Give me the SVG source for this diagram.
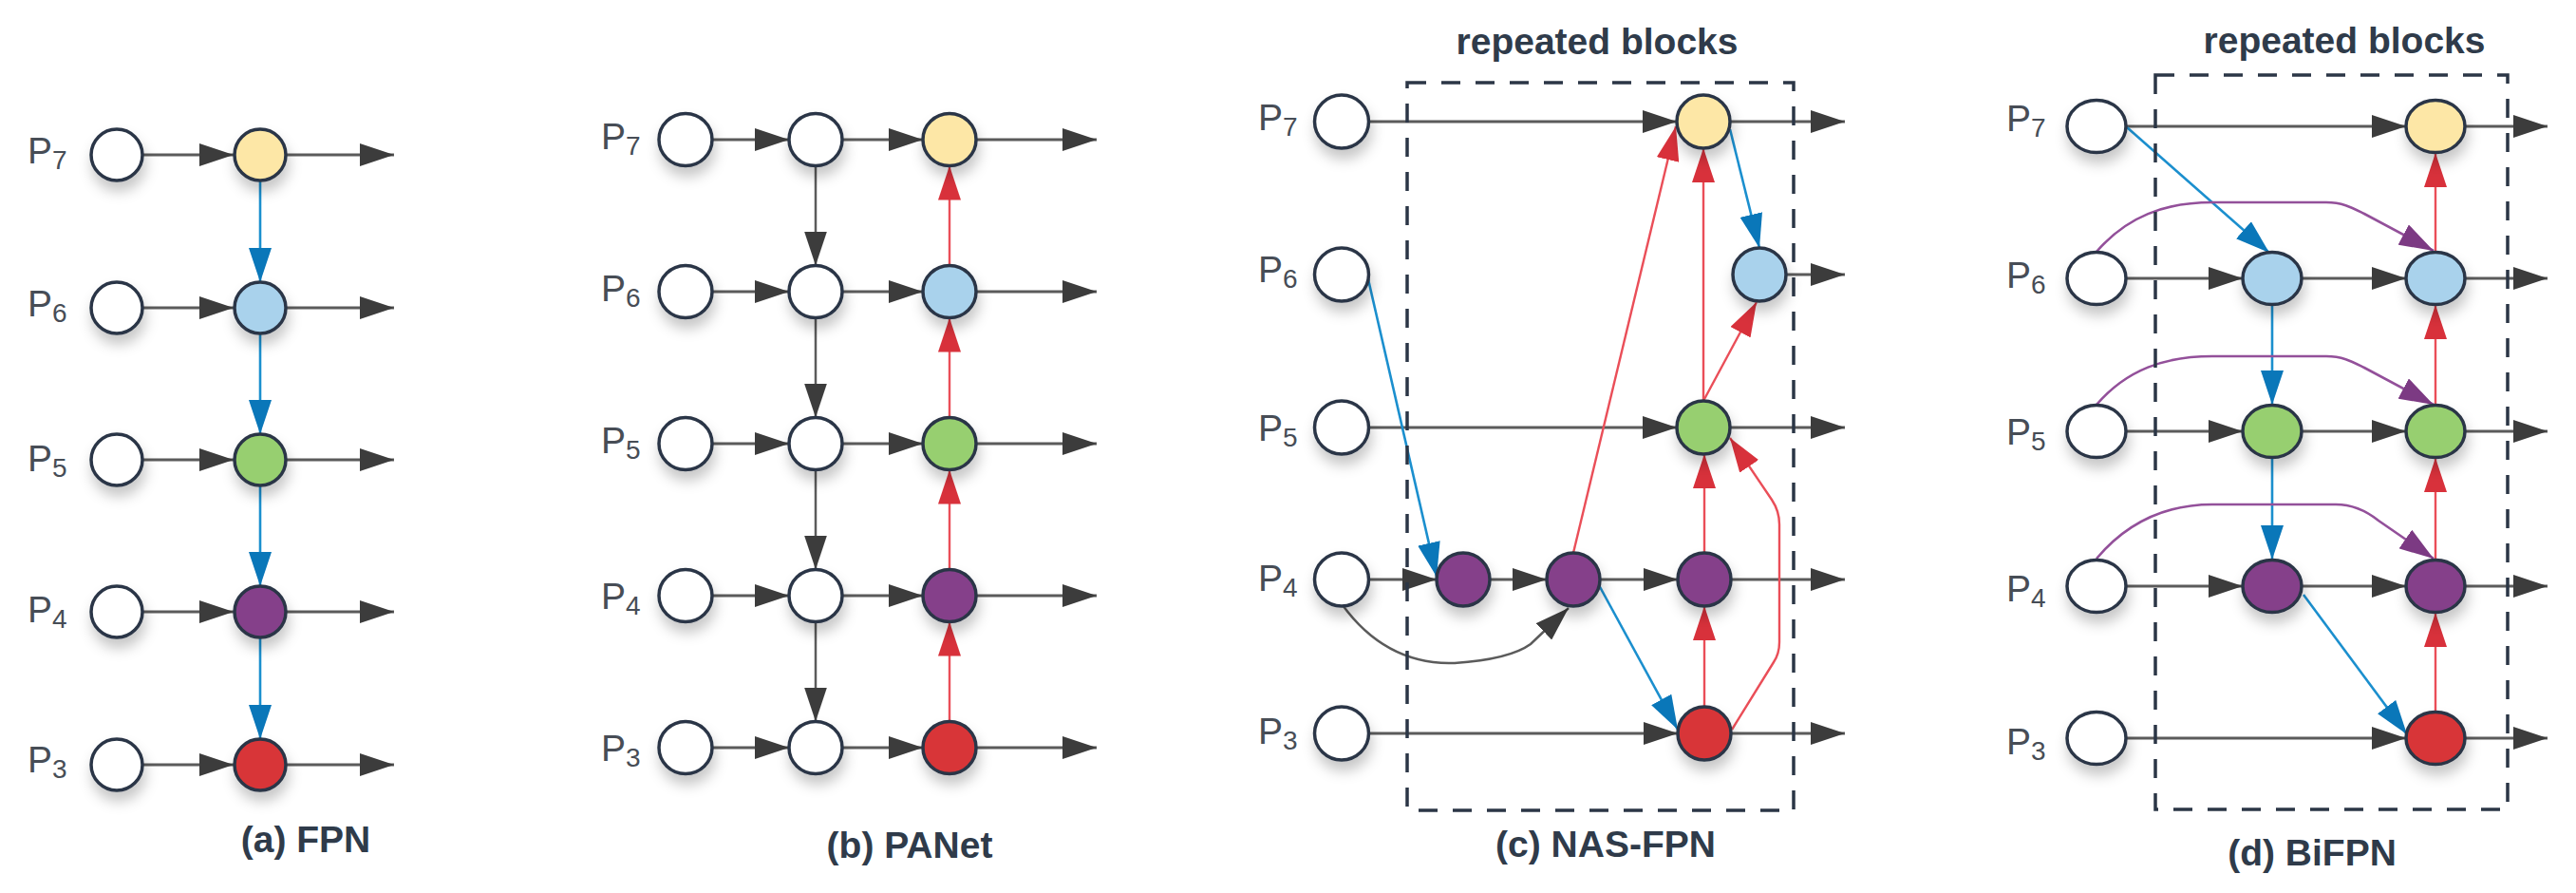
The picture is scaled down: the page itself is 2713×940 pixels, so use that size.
<svg xmlns="http://www.w3.org/2000/svg" width="2713" height="940" viewBox="0 0 2713 940">
<style>
.bg{fill:#ffffff}
.nd{stroke:#2b3646;stroke-width:3.5;filter:url(#sh)}
.w{fill:#ffffff}.y{fill:#fde7a6}.bl{fill:#a9d2ec}.g{fill:#97cf6f}.pu{fill:#85418a}.rd{fill:#d83537}
.k{fill:none;stroke:#5b5b5b;stroke-width:3;marker-end:url(#ak)}
.kb{fill:none;stroke:#5b5b5b;stroke-width:2.5;marker-end:url(#ak)}
.b{fill:none;stroke:#1b8fce;stroke-width:2.6;marker-end:url(#ab)}
.r{fill:none;stroke:#ea4e58;stroke-width:2.4;marker-end:url(#ar)}
.p{fill:none;stroke:#93509a;stroke-width:2.6;marker-end:url(#ap)}
.box{fill:none;stroke:#2b3646;stroke-width:3.5;stroke-dasharray:20 16}
.lab{font-family:"Liberation Sans",Arial,sans-serif;font-size:39px;fill:#474d56}
.sub{font-size:28px}
.cap{font-family:"Liberation Sans",Arial,sans-serif;font-weight:bold;font-size:39px;fill:#2f3b4a;text-anchor:middle}
</style>
<defs>
<filter id="sh" x="-60%" y="-60%" width="220%" height="240%">
<feDropShadow dx="2" dy="10" stdDeviation="7" flood-color="#000" flood-opacity="0.22"/>
</filter>
<marker id="ak" viewBox="0 0 36 24" markerUnits="userSpaceOnUse" markerWidth="36" markerHeight="24" refX="36" refY="12" orient="auto"><path d="M0,0 L36,12 L0,24 Z" fill="#3c3c3c"/></marker>
<marker id="ab" viewBox="0 0 36 24" markerUnits="userSpaceOnUse" markerWidth="36" markerHeight="24" refX="36" refY="12" orient="auto"><path d="M0,0 L36,12 L0,24 Z" fill="#0a77b9"/></marker>
<marker id="ar" viewBox="0 0 36 24" markerUnits="userSpaceOnUse" markerWidth="36" markerHeight="24" refX="36" refY="12" orient="auto"><path d="M0,0 L36,12 L0,24 Z" fill="#d8313b"/></marker>
<marker id="ap" viewBox="0 0 36 24" markerUnits="userSpaceOnUse" markerWidth="36" markerHeight="24" refX="36" refY="12" orient="auto"><path d="M0,0 L36,12 L0,24 Z" fill="#7c3a83"/></marker>
</defs>
<rect class="bg" x="0" y="0" width="2713" height="940"/>

<g id="connectors">
<!-- panel a -->
<path class="k" d="M150,163 H246"/><path class="k" d="M301,163 H415"/>
<path class="k" d="M150,324 H246"/><path class="k" d="M301,324 H415"/>
<path class="k" d="M150,484 H246"/><path class="k" d="M301,484 H415"/>
<path class="k" d="M150,644 H246"/><path class="k" d="M301,644 H415"/>
<path class="k" d="M150,805 H246"/><path class="k" d="M301,805 H415"/>
<path class="b" d="M274,190 V297"/><path class="b" d="M274,351 V457"/>
<path class="b" d="M274,511 V617"/><path class="b" d="M274,671 V778"/>
<!-- panel b -->
<path class="k" d="M750,147 H831"/><path class="k" d="M887,147 H972"/><path class="k" d="M1028,147 H1155"/>
<path class="k" d="M750,307 H831"/><path class="k" d="M887,307 H972"/><path class="k" d="M1028,307 H1155"/>
<path class="k" d="M750,467 H831"/><path class="k" d="M887,467 H972"/><path class="k" d="M1028,467 H1155"/>
<path class="k" d="M750,627 H831"/><path class="k" d="M887,627 H972"/><path class="k" d="M1028,627 H1155"/>
<path class="k" d="M750,787 H831"/><path class="k" d="M887,787 H972"/><path class="k" d="M1028,787 H1155"/>
<path class="kb" d="M859,174.5 V279.5"/><path class="kb" d="M859,334.5 V439.5"/>
<path class="kb" d="M859,494.5 V599.5"/><path class="kb" d="M859,654.5 V759.5"/>
<path class="r" d="M1000,759.5 V654.5"/><path class="r" d="M1000,599.5 V494.5"/>
<path class="r" d="M1000,439.5 V334.5"/><path class="r" d="M1000,279.5 V174.5"/>
<!-- panel c -->
<path class="k" d="M1441,128 H1766"/><path class="k" d="M1822,128 H1943"/>
<path class="b" d="M1822,136 L1853,261"/>
<path class="k" d="M1881,289 H1943"/>
<path class="k" d="M1441,450 H1766"/><path class="k" d="M1822,450 H1943"/>
<path class="r" d="M1794,422 V156"/>
<path class="r" d="M1794,422 L1850,318"/>
<path class="b" d="M1441,294 L1513,607"/>
<path class="k" d="M1441,610 H1513"/><path class="k" d="M1569,610 H1629"/>
<path class="k" d="M1685,610 H1767"/><path class="k" d="M1823,610 H1943"/>
<path class="kb" d="M1414,637 Q1460,700 1532,698 Q1590,694 1612,678 L1652,640"/>
<path class="b" d="M1684,616 L1767,768"/>
<path class="k" d="M1441,772 H1767"/><path class="k" d="M1823,772 H1943"/>
<path class="r" d="M1795,744 V638"/>
<path class="r" d="M1795,582 V478"/>
<path class="r" d="M1824,768 L1868,697 Q1874,688 1874,676 L1874,552 Q1874,538 1866,526 L1822,461"/>
<path class="r" d="M1657,582 L1765,133"/>
<!-- panel d -->
<path class="k" d="M2239,133 H2534"/><path class="k" d="M2596,133 H2683"/>
<path class="b" d="M2240,134 L2390,266"/>
<path class="k" d="M2239,293 H2362"/><path class="k" d="M2424,293 H2534"/><path class="k" d="M2596,293 H2683"/>
<path class="k" d="M2239,454 H2362"/><path class="k" d="M2424,454 H2534"/><path class="k" d="M2596,454 H2683"/>
<path class="k" d="M2239,617 H2362"/><path class="k" d="M2424,617 H2534"/><path class="k" d="M2596,617 H2683"/>
<path class="k" d="M2239,777 H2534"/><path class="k" d="M2596,777 H2683"/>
<path class="b" d="M2393,321 V426"/><path class="b" d="M2393,482 V589"/>
<path class="b" d="M2426,626 L2535,773"/>
<path class="r" d="M2565,749 V645"/><path class="r" d="M2565,589 V482"/>
<path class="r" d="M2565,426 V321"/><path class="r" d="M2565,265 V161"/>
<path class="p" d="M2208,265 C2240,228 2280,213 2330,213 L2450,213 C2468,213 2478,219 2490,225 L2563,264"/>
<path class="p" d="M2208,426 C2240,389 2280,375 2330,375 L2450,375 C2468,375 2478,381 2490,387 L2563,426"/>
<path class="p" d="M2208,588 C2240,550 2280,531 2330,531 L2460,531 C2480,531 2495,540 2505,548 L2563,588"/>
</g>

<g id="blocks">
<rect class="box" x="1482" y="87" width="407" height="766"/>
<rect class="box" x="2270" y="79" width="371" height="773"/>
<text class="cap" x="1682" y="57">repeated blocks</text>
<text class="cap" x="2469" y="56">repeated blocks</text>
</g>

<!-- panel a nodes -->
<g id="a-in7"><circle class="nd w" cx="123" cy="163" r="27"/></g>
<g id="a-in6"><circle class="nd w" cx="123" cy="324" r="27"/></g>
<g id="a-in5"><circle class="nd w" cx="123" cy="484" r="27"/></g>
<g id="a-in4"><circle class="nd w" cx="123" cy="644" r="27"/></g>
<g id="a-in3"><circle class="nd w" cx="123" cy="805" r="27"/></g>
<g id="a-p7"><circle class="nd y" cx="274" cy="163" r="27"/></g>
<g id="a-p6"><circle class="nd bl" cx="274" cy="324" r="27"/></g>
<g id="a-p5"><circle class="nd g" cx="274" cy="484" r="27"/></g>
<g id="a-p4"><circle class="nd pu" cx="274" cy="644" r="27"/></g>
<g id="a-p3"><circle class="nd rd" cx="274" cy="805" r="27"/></g>

<!-- panel b nodes -->
<g id="b-in7"><ellipse class="nd w" cx="722" cy="147" rx="28" ry="27.5"/></g>
<g id="b-in6"><ellipse class="nd w" cx="722" cy="307" rx="28" ry="27.5"/></g>
<g id="b-in5"><ellipse class="nd w" cx="722" cy="467" rx="28" ry="27.5"/></g>
<g id="b-in4"><ellipse class="nd w" cx="722" cy="627" rx="28" ry="27.5"/></g>
<g id="b-in3"><ellipse class="nd w" cx="722" cy="787" rx="28" ry="27.5"/></g>
<g id="b-td7"><ellipse class="nd w" cx="859" cy="147" rx="28" ry="27.5"/></g>
<g id="b-td6"><ellipse class="nd w" cx="859" cy="307" rx="28" ry="27.5"/></g>
<g id="b-td5"><ellipse class="nd w" cx="859" cy="467" rx="28" ry="27.5"/></g>
<g id="b-td4"><ellipse class="nd w" cx="859" cy="627" rx="28" ry="27.5"/></g>
<g id="b-td3"><ellipse class="nd w" cx="859" cy="787" rx="28" ry="27.5"/></g>
<g id="b-p7"><ellipse class="nd y" cx="1000" cy="147" rx="28" ry="27.5"/></g>
<g id="b-p6"><ellipse class="nd bl" cx="1000" cy="307" rx="28" ry="27.5"/></g>
<g id="b-p5"><ellipse class="nd g" cx="1000" cy="467" rx="28" ry="27.5"/></g>
<g id="b-p4"><ellipse class="nd pu" cx="1000" cy="627" rx="28" ry="27.5"/></g>
<g id="b-p3"><ellipse class="nd rd" cx="1000" cy="787" rx="28" ry="27.5"/></g>

<!-- panel c nodes -->
<g id="c-in7"><ellipse class="nd w" cx="1413" cy="128" rx="28.5" ry="28"/></g>
<g id="c-in6"><ellipse class="nd w" cx="1413" cy="289" rx="28.5" ry="28"/></g>
<g id="c-in5"><ellipse class="nd w" cx="1413" cy="450" rx="28.5" ry="28"/></g>
<g id="c-in4"><ellipse class="nd w" cx="1413" cy="610" rx="28.5" ry="28"/></g>
<g id="c-in3"><ellipse class="nd w" cx="1413" cy="772" rx="28.5" ry="28"/></g>
<g id="c-p7"><ellipse class="nd y" cx="1794" cy="128" rx="28" ry="28"/></g>
<g id="c-p6"><ellipse class="nd bl" cx="1853" cy="289" rx="28" ry="28"/></g>
<g id="c-p5"><ellipse class="nd g" cx="1794" cy="450" rx="28" ry="28"/></g>
<g id="c-p4a"><ellipse class="nd pu" cx="1541" cy="610" rx="28" ry="28"/></g>
<g id="c-p4b"><ellipse class="nd pu" cx="1657" cy="610" rx="28" ry="28"/></g>
<g id="c-p4c"><ellipse class="nd pu" cx="1795" cy="610" rx="28" ry="28"/></g>
<g id="c-p3"><ellipse class="nd rd" cx="1795" cy="772" rx="28" ry="28"/></g>

<!-- panel d nodes -->
<g id="d-in7"><ellipse class="nd w" cx="2208" cy="133" rx="31" ry="27.5"/></g>
<g id="d-in6"><ellipse class="nd w" cx="2208" cy="293" rx="31" ry="27.5"/></g>
<g id="d-in5"><ellipse class="nd w" cx="2208" cy="454" rx="31" ry="27.5"/></g>
<g id="d-in4"><ellipse class="nd w" cx="2208" cy="617" rx="31" ry="27.5"/></g>
<g id="d-in3"><ellipse class="nd w" cx="2208" cy="777" rx="31" ry="27.5"/></g>
<g id="d-td6"><ellipse class="nd bl" cx="2393" cy="293" rx="31" ry="27.5"/></g>
<g id="d-td5"><ellipse class="nd g" cx="2393" cy="454" rx="31" ry="27.5"/></g>
<g id="d-td4"><ellipse class="nd pu" cx="2393" cy="617" rx="31" ry="27.5"/></g>
<g id="d-p7"><ellipse class="nd y" cx="2565" cy="133" rx="31" ry="27.5"/></g>
<g id="d-p6"><ellipse class="nd bl" cx="2565" cy="293" rx="31" ry="27.5"/></g>
<g id="d-p5"><ellipse class="nd g" cx="2565" cy="454" rx="31" ry="27.5"/></g>
<g id="d-p4"><ellipse class="nd pu" cx="2565" cy="617" rx="31" ry="27.5"/></g>
<g id="d-p3"><ellipse class="nd rd" cx="2565" cy="777" rx="31" ry="27.5"/></g>

<g id="labels">
<text class="lab" x="29" y="172">P<tspan class="sub" dy="6">7</tspan></text>
<text class="lab" x="29" y="333">P<tspan class="sub" dy="6">6</tspan></text>
<text class="lab" x="29" y="496">P<tspan class="sub" dy="6">5</tspan></text>
<text class="lab" x="29" y="655">P<tspan class="sub" dy="6">4</tspan></text>
<text class="lab" x="29" y="813">P<tspan class="sub" dy="6">3</tspan></text>
<text class="lab" x="633" y="157">P<tspan class="sub" dy="6">7</tspan></text>
<text class="lab" x="633" y="317">P<tspan class="sub" dy="6">6</tspan></text>
<text class="lab" x="633" y="477">P<tspan class="sub" dy="6">5</tspan></text>
<text class="lab" x="633" y="641">P<tspan class="sub" dy="6">4</tspan></text>
<text class="lab" x="633" y="801">P<tspan class="sub" dy="6">3</tspan></text>
<text class="lab" x="1325" y="137">P<tspan class="sub" dy="6">7</tspan></text>
<text class="lab" x="1325" y="297">P<tspan class="sub" dy="6">6</tspan></text>
<text class="lab" x="1325" y="464">P<tspan class="sub" dy="6">5</tspan></text>
<text class="lab" x="1325" y="622">P<tspan class="sub" dy="6">4</tspan></text>
<text class="lab" x="1325" y="783">P<tspan class="sub" dy="6">3</tspan></text>
<text class="lab" x="2113" y="138">P<tspan class="sub" dy="6">7</tspan></text>
<text class="lab" x="2113" y="303">P<tspan class="sub" dy="6">6</tspan></text>
<text class="lab" x="2113" y="468">P<tspan class="sub" dy="6">5</tspan></text>
<text class="lab" x="2113" y="633">P<tspan class="sub" dy="6">4</tspan></text>
<text class="lab" x="2113" y="794">P<tspan class="sub" dy="6">3</tspan></text>
<text class="cap" x="322" y="897">(a) FPN</text>
<text class="cap" x="958" y="903">(b) PANet</text>
<text class="cap" x="1691" y="902">(c) NAS-FPN</text>
<text class="cap" x="2435" y="911">(d) BiFPN</text>
</g>
</svg>
